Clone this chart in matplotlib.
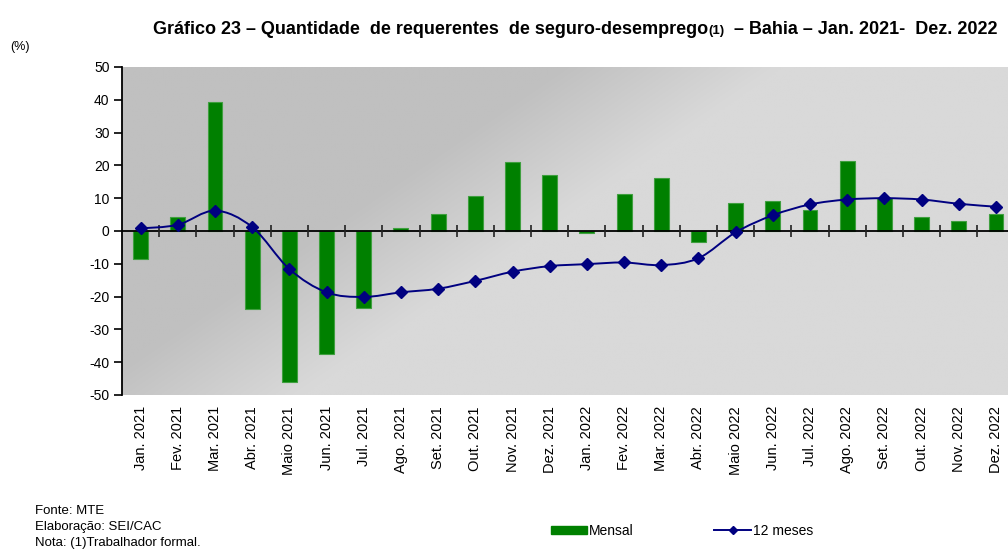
import numpy as np
import matplotlib
matplotlib.use("Agg")
import matplotlib.pyplot as plt
from matplotlib.path import Path
from matplotlib.patches import PathPatch
from matplotlib.lines import Line2D
from matplotlib.patches import Patch

plt.rcParams["font.family"] = ["Liberation Sans", "DejaVu Sans"]

months = ["Jan. 2021", "Fev. 2021", "Mar. 2021", "Abr. 2021", "Maio 2021", "Jun. 2021",
          "Jul. 2021", "Ago. 2021", "Set. 2021", "Out. 2021", "Nov. 2021", "Dez. 2021",
          "Jan. 2022", "Fev. 2022", "Mar. 2022", "Abr. 2022", "Maio 2022", "Jun. 2022",
          "Jul. 2022", "Ago. 2022", "Set. 2022", "Out. 2022", "Nov. 2022", "Dez. 2022"]
mensal = [-8.4, 4.3, 39.3, -23.8, -45.9, -37.4, -23.4, 0.9, 5.2, 10.7, 21.0, 17.1,
          -0.7, 11.2, 16.3, -3.3, 8.6, 9.1, 6.4, 21.4, 10.0, 4.3, 3.1, 5.2]
doze_meses = [0.8, 1.9, 6.2, 1.2, -11.6, -18.7, -20.1, -18.7, -17.6, -15.2, -12.4, -10.7,
              -10.1, -9.6, -10.4, -8.3, -0.4, 4.8, 8.1, 9.6, 10.0, 9.6, 8.3, 7.4]
yticks = list(range(-50, 51, 10))

W, H = 1008, 551
fig = plt.figure(figsize=(W / 100, H / 100), dpi=100)
ax_l, ax_r, ax_t, ax_b = 122, 1014.6, 67, 395
ax = fig.add_axes([ax_l / W, 1 - ax_b / H, (ax_r - ax_l) / W, (ax_b - ax_t) / H])

# gradient plot area background
nx, ny = 300, 150
u = np.linspace(0, 1, nx)
v = np.linspace(0, 1, ny)
U, V = np.meshgrid(u, v)
px = ax_l + U * (ax_r - ax_l)
py = ax_t + (1 - V) * (ax_b - ax_t)
d = px + 1.46 * (py - ax_t)
t = np.clip((d - 560) / 220, 0, 1)
g = (192 + 25 * t) / 255
img = np.dstack([g, g, g])
ax.imshow(img, extent=[0, 1, 0, 1], transform=ax.transAxes, origin="lower",
          aspect="auto", zorder=0, interpolation="bilinear")

x = np.arange(len(months))
ax.bar(x, mensal, width=0.4, color="#008000", edgecolor="#3f9f3f", linewidth=0.8,
       zorder=2)

# zero axis with boundary ticks
ax.axhline(0, color="black", lw=1.3, zorder=3)
ax.plot(np.arange(len(months) - 1) + 0.5, np.zeros(len(months) - 1), ls="none",
        marker="|", markersize=8, mew=1.2, color="#222222", zorder=3)

# smooth 12-month line (Bezier through the points)
pts = np.column_stack([x, doze_meses]).astype(float)
verts = [pts[0]]
codes = [Path.MOVETO]
n = len(pts)
for i in range(n - 1):
    p0 = pts[max(i - 1, 0)]
    p1 = pts[i]
    p2 = pts[i + 1]
    p3 = pts[min(i + 2, n - 1)]
    c1 = p1 + (p2 - p0) / 6
    c2 = p2 - (p3 - p1) / 6
    verts += [c1, c2, p2]
    codes += [Path.CURVE4] * 3
ax.add_patch(PathPatch(Path(verts, codes), fill=False, edgecolor="#000080", lw=1.4,
                       zorder=4))
ax.plot(x, doze_meses, ls="none", marker="D", markersize=6.5, color="#000080", zorder=5)

ax.set_xlim(-0.5, len(months) - 0.5)
ax.set_ylim(-50, 50)
ax.set_yticks(yticks)
ax.set_yticklabels([str(t) for t in yticks], fontsize=10)
ax.set_xticks(x)
ax.set_xticklabels(months, rotation=90, fontsize=10.5)
ax.tick_params(axis="x", length=0, pad=8)
ax.tick_params(axis="y", direction="out", length=6, width=1.2, pad=3)
for s in ["top", "right", "bottom"]:
    ax.spines[s].set_visible(False)
ax.spines["left"].set_linewidth(1.3)

# title in pieces (smaller "(1)")
ty = 1 - 30 / H
t1 = fig.text(153 / W, ty, "Gráfico 23 – Quantidade  de requerentes  de seguro-desemprego",
              fontsize=13, fontweight="bold", va="center", ha="left")
fig.canvas.draw()
r = fig.canvas.get_renderer()
bb = t1.get_window_extent(r)
t2 = fig.text(bb.x1 / W, ty - 0.002, "(1)", fontsize=9.5, fontweight="bold", va="center",
              ha="left")
bb2 = t2.get_window_extent(r)
fig.text(bb2.x1 / W, ty, "  – Bahia – Jan. 2021-  Dez. 2022", fontsize=13,
         fontweight="bold", va="center", ha="left")

fig.text(10 / W, 1 - 47 / H, "(%)", fontsize=9, va="center", ha="left")

fig.text(35 / W, 1 - 511 / H, "Fonte: MTE", fontsize=9.5, va="center")
fig.text(35 / W, 1 - 527 / H, "Elaboração: SEI/CAC", fontsize=9.5, va="center")
fig.text(35 / W, 1 - 543 / H, "Nota: (1)Trabalhador formal.", fontsize=9.5, va="center")

handles = [Patch(facecolor="#008000", edgecolor="#008000"),
           Line2D([], [], color="#000080", lw=1.4, marker="D", markersize=4)]
fig.legend(handles, ["Mensal", "12 meses"], loc="center left",
           bbox_to_anchor=(544 / W, 1 - 531 / H), ncol=2, frameon=False, fontsize=10,
           handlelength=2.6, handleheight=0.55, handletextpad=0.15, columnspacing=5.8,
           borderpad=0)

fig.savefig("out.png", dpi=100)
